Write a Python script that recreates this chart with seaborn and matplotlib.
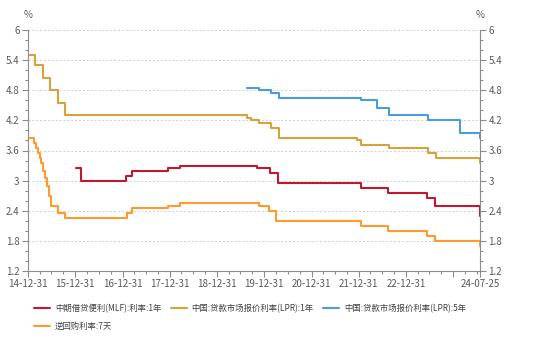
import matplotlib
matplotlib.use("Agg")
import matplotlib.pyplot as plt
import matplotlib.dates as mdates
from matplotlib.ticker import MultipleLocator, FixedLocator
import seaborn as sns
import pandas as pd
import numpy as np

sns.set_theme(style="white")
plt.rcParams['font.family'] = ['Noto Sans CJK SC', 'DejaVu Sans']

# ---------------- data (change points) ----------------
mlf_dates = ["2016-01-08", "2016-02-10", "2017-01-24", "2017-03-16", "2017-12-14",
             "2018-03-22", "2019-11-05", "2020-02-17", "2020-04-15", "2022-01-17",
             "2022-08-15", "2023-06-15", "2023-08-15", "2024-07-22", "2024-07-25"]
mlf_vals = [3.25, 3.00, 3.10, 3.20, 3.25, 3.30, 3.25, 3.15, 2.95, 2.85,
            2.75, 2.65, 2.50, 2.30, 2.30]

lpr1_dates = ["2014-12-31", "2015-02-20", "2015-04-28", "2015-06-20", "2015-08-18",
              "2015-10-15", "2018-03-20", "2019-08-20", "2019-09-20", "2019-11-20",
              "2020-02-20", "2020-04-20", "2021-12-20", "2022-01-20", "2022-08-22",
              "2023-06-20", "2023-08-21", "2024-07-22", "2024-07-25"]
lpr1_vals = [5.51, 5.30, 5.05, 4.81, 4.55, 4.30, 4.31, 4.25, 4.20, 4.15,
             4.05, 3.85, 3.80, 3.70, 3.65, 3.55, 3.45, 3.35, 3.35]

lpr5_dates = ["2019-08-20", "2019-11-20", "2020-02-20", "2020-04-20", "2022-01-20",
              "2022-05-20", "2022-08-22", "2023-06-20", "2024-02-20", "2024-07-22",
              "2024-07-25"]
lpr5_vals = [4.85, 4.80, 4.75, 4.65, 4.60, 4.45, 4.30, 4.20, 3.95, 3.85, 3.85]

rr_dates = ["2015-01-10", "2015-02-17", "2015-03-05", "2015-03-19", "2015-03-31",
            "2015-04-14", "2015-04-28", "2015-05-12", "2015-05-26", "2015-06-09",
            "2015-06-25", "2015-08-22", "2015-10-15", "2017-02-03", "2017-03-16",
            "2017-12-14", "2018-03-22", "2019-11-18", "2020-02-03", "2020-03-30",
            "2022-01-17", "2022-08-15", "2023-06-13", "2023-08-15", "2024-07-22",
            "2024-07-25"]
rr_vals = [3.85, 3.75, 3.65, 3.55, 3.45, 3.35, 3.20, 3.05, 2.90, 2.70,
           2.50, 2.35, 2.25, 2.35, 2.45, 2.50, 2.55, 2.50, 2.40, 2.20,
           2.10, 2.00, 1.90, 1.80, 1.70, 1.70]

series_names = ["中期借贷便利(MLF):利率:1年", "中国:贷款市场报价利率(LPR):1年",
                "中国:贷款市场报价利率(LPR):5年", "逆回购利率:7天"]
series_colors = ["#C0192F", "#D6A23E", "#4C9BE0", "#FF9A2E"]

x_tick_dates = ["2014-12-31", "2015-12-31", "2016-12-31", "2017-12-31", "2018-12-31",
                "2019-12-31", "2020-12-31", "2021-12-31", "2022-12-31", "2023-12-31",
                "2024-07-25"]
x_tick_labels = ["14-12-31", "15-12-31", "16-12-31", "17-12-31", "18-12-31",
                 "19-12-31", "20-12-31", "21-12-31", "22-12-31", "", "24-07-25"]
y_ticks = [1.2, 1.8, 2.4, 3.0, 3.6, 4.2, 4.8, 5.4, 6.0]
y_tick_labels = ["1.2", "1.8", "2.4", "3", "3.6", "4.2", "4.8", "5.4", "6"]

frames = []
for name, d, v in zip(series_names,
                      [mlf_dates, lpr1_dates, lpr5_dates, rr_dates],
                      [mlf_vals, lpr1_vals, lpr5_vals, rr_vals]):
    frames.append(pd.DataFrame({"date": pd.to_datetime(d), "value": v, "series": name}))
df = pd.concat(frames, ignore_index=True)

# ---------------- figure ----------------
W, H = 535, 340
fig = plt.figure(figsize=(W / 100, H / 100), dpi=100)
ax = fig.add_axes([28 / W, 1 - 271 / H, (480 - 28) / W, (271 - 30) / H])

palette = dict(zip(series_names, series_colors))
for name in series_names:
    sub = df[df.series == name]
    sns.lineplot(data=sub, x="date", y="value", ax=ax, color=palette[name],
                 drawstyle="steps-post", linewidth=1.5, label=name, legend=False)

ax.set_xlim(pd.Timestamp("2014-12-31"), pd.Timestamp("2024-07-25"))
ax.set_ylim(1.2, 6.0)
ax.set_xlabel("")
ax.set_ylabel("")

spine_c = "#8c8c8c"
text_c = "#595959"
for s in ["top", "right"]:
    ax.spines[s].set_visible(False)
for s in ["left", "bottom"]:
    ax.spines[s].set_color(spine_c)
    ax.spines[s].set_linewidth(0.8)

ax.set_yticks(y_ticks)
ax.set_yticklabels(y_tick_labels)
ax.yaxis.set_minor_locator(MultipleLocator(0.2))
ax.grid(axis="y", which="major", color="#d0d0d0", linestyle=(0, (2, 2)), linewidth=0.7)
ax.set_axisbelow(True)

xt = mdates.date2num(pd.to_datetime(x_tick_dates))
ax.xaxis.set_major_locator(FixedLocator(xt))
ax.set_xticklabels(x_tick_labels)
qt = mdates.date2num(pd.date_range("2014-12-31", "2024-07-25", freq="QE"))
ax.xaxis.set_minor_locator(FixedLocator(qt))

ax.tick_params(axis="both", which="major", length=4, width=0.8, color=spine_c,
               labelsize=7, labelcolor=text_c, pad=2, direction="out")
ax.tick_params(axis="both", which="minor", length=2.5, width=0.8, color=spine_c,
               direction="out")
ax.tick_params(axis="y", left=True, which="both")
ax.tick_params(axis="x", bottom=True, which="both")

# right axis
ax2 = ax.twinx()
ax2.set_ylim(1.2, 6.0)
ax2.set_yticks(y_ticks)
ax2.set_yticklabels(y_tick_labels)
ax2.yaxis.set_minor_locator(MultipleLocator(0.2))
for s in ["top", "left", "bottom"]:
    ax2.spines[s].set_visible(False)
ax2.spines["right"].set_color(spine_c)
ax2.spines["right"].set_linewidth(0.8)
ax2.tick_params(axis="y", which="major", length=4, width=0.8, color=spine_c,
                labelsize=7, labelcolor=text_c, pad=2, right=True)
ax2.tick_params(axis="y", which="minor", length=2.5, width=0.8, color=spine_c, right=True)
ax2.grid(False)

fig.text(28 / W, 1 - 15 / H, "%", ha="center", va="center", fontsize=7, color=text_c)
fig.text(480 / W, 1 - 15 / H, "%", ha="center", va="center", fontsize=7, color=text_c)

# legend (column-major fill)
handles, labels = ax.get_legend_handles_labels()
order = [0, 3, 1, 2]
leg = fig.legend([handles[i] for i in order], [labels[i] for i in order],
                 loc="upper left", bbox_to_anchor=(34 / W, 1 - 304 / H), ncol=3,
                 frameon=False, fontsize=6, handlelength=1.9, handletextpad=0.6,
                 columnspacing=1.15, labelspacing=1.05, borderaxespad=0, borderpad=0)
for t in leg.get_texts():
    t.set_color("#404040")

fig.savefig("out.png", dpi=100)
